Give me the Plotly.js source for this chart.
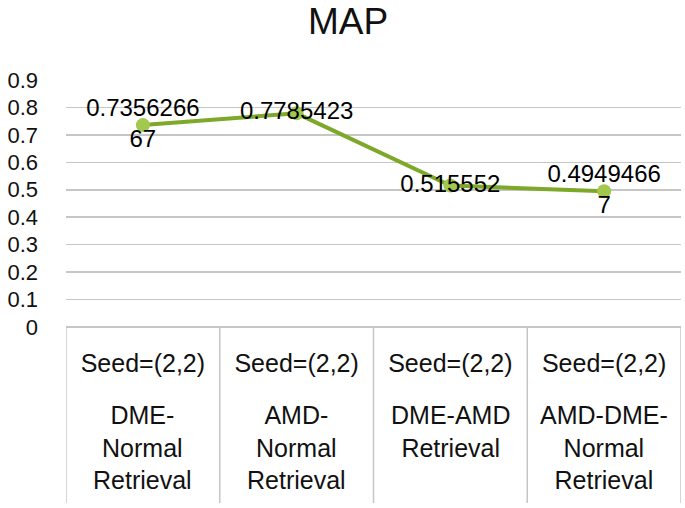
<!DOCTYPE html>
<html>
<head>
<meta charset="utf-8">
<script src="https://cdn.plot.ly/plotly-3.0.1.min.js"></script>
<style>html,body{margin:0;padding:0;background:#fff;}#chart{width:685px;height:508px;}</style>
</head>
<body>
<div id="chart"></div>
<script>
// Data
const seedLabels = ["Seed=(2,2)", "Seed=(2,2)", "Seed=(2,2)", "Seed=(2,2)"];
const groupLabels = ["DME-<br>Normal<br>Retrieval", "AMD-<br>Normal<br>Retrieval", "DME-AMD<br>Retrieval", "AMD-DME-<br>Normal<br>Retrieval"];
const mapValues = [0.735626667, 0.7785423, 0.515552, 0.494946667];
const valueLabels = ["0.7356266<br>67", "0.7785423", "0.515552", "0.4949466<br>7"];
const yTicks = [0, 0.1, 0.2, 0.3, 0.4, 0.5, 0.6, 0.7, 0.8, 0.9];

const idx = mapValues.map((_, i) => i);
const FONT = "Liberation Sans, Arial, sans-serif";
const GRID = "#c6c6c6";

const trace = {
  x: idx,
  y: mapValues,
  type: "scatter",
  mode: "lines+markers+text",
  text: valueLabels,
  textposition: "middle center",
  textfont: {family: FONT, size: 24, color: "#000"},
  line: {color: "#7ea82a", width: 4},
  marker: {color: "#a2c84e", size: 14, line: {width: 0}},
  cliponaxis: false,
  hoverinfo: "none"
};

const plotH = 247;
const shapes = [];
for (let i = 0; i <= idx.length; i++) {
  shapes.push({type: "line", xref: "x", yref: "paper", x0: i - 0.5, x1: i - 0.5,
    y0: 0, y1: -176 / plotH, line: {color: GRID, width: 1.5}, layer: "below"});
}

const annotations = groupLabels.map((t, i) => ({
  xref: "x", yref: "paper", x: i, y: -72 / plotH, yanchor: "top", xanchor: "center",
  text: t, showarrow: false, align: "center",
  font: {family: FONT, size: 25, color: "#111"}
}));

const layout = {
  width: 685, height: 508,
  margin: {l: 66, r: 4, t: 80, b: 181},
  paper_bgcolor: "#fff", plot_bgcolor: "#fff",
  showlegend: false,
  title: {text: "MAP", x: 0.508, xref: "container", xanchor: "center", y: 0.959, yanchor: "middle",
    font: {family: FONT, size: 37, color: "#111"}},
  xaxis: {
    range: [-0.5, idx.length - 0.5],
    tickmode: "array", tickvals: idx, ticktext: seedLabels,
    showgrid: false, zeroline: false, showline: false, ticks: "",
    tickfont: {family: FONT, size: 25, color: "#111"},
    ticklabelstandoff: 19,
    fixedrange: true
  },
  yaxis: {
    range: [0, 0.9],
    tickmode: "array", tickvals: yTicks, ticktext: yTicks.map(v => String(v)),
    showgrid: true, gridcolor: GRID, gridwidth: 1.5,
    zeroline: true, zerolinecolor: GRID, zerolinewidth: 1.5,
    showline: false, ticks: "",
    tickfont: {family: FONT, size: 22, color: "#111"},
    ticklabelstandoff: 27,
    fixedrange: true
  },
  shapes: shapes,
  annotations: annotations
};

Plotly.newPlot("chart", [trace], layout, {displayModeBar: false, staticPlot: true});
</script>
</body>
</html>
